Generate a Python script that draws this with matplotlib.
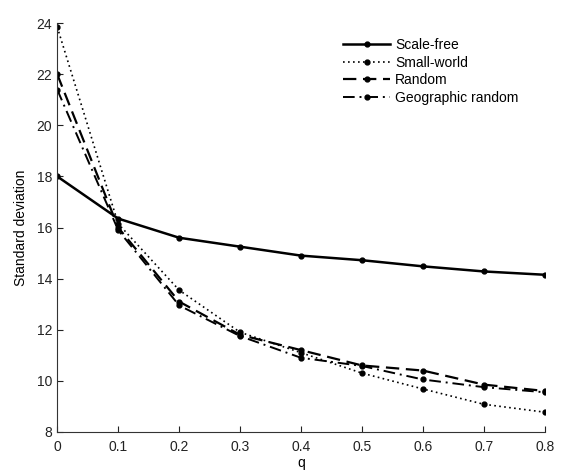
import matplotlib
matplotlib.use("Agg")
import matplotlib.pyplot as plt

plt.rcParams['font.family'] = ['Liberation Sans', 'DejaVu Sans']

q = [0, 0.1, 0.2, 0.3, 0.4, 0.5, 0.6, 0.7, 0.8]
scale_free = [18.0, 16.35, 15.6, 15.25, 14.9, 14.72, 14.48, 14.28, 14.15]
small_world = [23.85, 16.15, 13.55, 11.9, 11.1, 10.3, 9.68, 9.08, 8.77]
random_net = [22.0, 16.0, 13.1, 11.8, 11.2, 10.6, 10.4, 9.85, 9.6]
geo_random = [21.4, 15.9, 12.95, 11.75, 10.9, 10.58, 10.05, 9.75, 9.55]

xtick_labels = ['0', '0.1', '0.2', '0.3', '0.4', '0.5', '0.6', '0.7', '0.8']
yticks = [8, 10, 12, 14, 16, 18, 20, 22, 24]

fig = plt.figure(figsize=(5.61, 4.73), dpi=100)
ax = fig.add_axes([0.102, 0.087, 0.869, 0.864])

ms = 7
ax.plot(q, scale_free, color='black', lw=1.8, marker='.', ms=ms, label='Scale-free')
ax.plot(q, small_world, color='black', lw=1.2, ls=(0, (1, 2)), marker='.', ms=ms, label='Small-world')
ax.plot(q, random_net, color='black', lw=1.6, ls=(0, (6, 3)), marker='.', ms=ms, label='Random')
ax.plot(q, geo_random, color='black', lw=1.4, ls=(0, (6, 2.5, 1, 2.5)), marker='.', ms=ms,
        label='Geographic random')

ax.set_xlim(0, 0.8)
ax.set_ylim(8, 24)
ax.set_xticks(q)
ax.set_xticklabels(xtick_labels)
ax.set_yticks(yticks)
ax.tick_params(direction='in', length=4, labelsize=10, colors='#222222')
ax.tick_params(axis='x', pad=6)
for s in ['top', 'right']:
    ax.spines[s].set_visible(False)
for s in ['left', 'bottom']:
    ax.spines[s].set_color('#333333')

ax.set_xlabel('q', fontsize=10, labelpad=1)
ax.set_ylabel('Standard deviation', fontsize=10, labelpad=6)

ax.legend(loc='upper left', bbox_to_anchor=(0.586, 0.963), borderaxespad=0, borderpad=0,
          frameon=False, fontsize=10, handlelength=3.4, labelspacing=0.25, handletextpad=0.35)

fig.savefig('out.png', dpi=100)
